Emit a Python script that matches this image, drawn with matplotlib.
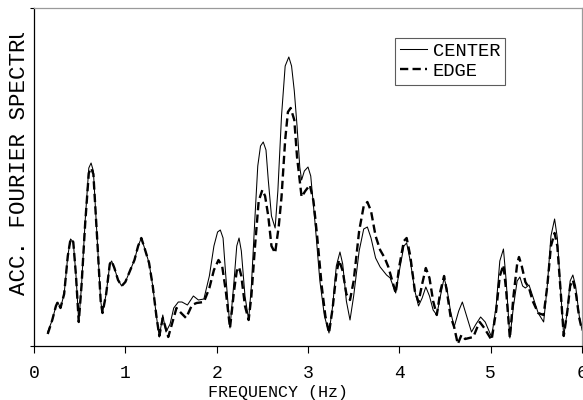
import matplotlib
matplotlib.use("Agg")
import matplotlib.pyplot as plt
from matplotlib.transforms import Bbox, TransformedBbox

# ---- data (y in arbitrary spectral units) ----
center_x = [0.15, 0.20, 0.24, 0.26, 0.29, 0.33, 0.37, 0.40, 0.43, 0.46, 0.49, 0.52, 0.56, 0.60, 0.625,
            0.65, 0.69, 0.73, 0.75, 0.79, 0.83, 0.85, 0.88, 0.92, 0.96, 1.00, 1.05, 1.10, 1.14, 1.175,
            1.21, 1.26, 1.30, 1.34, 1.372, 1.41, 1.445, 1.49, 1.53, 1.58, 1.62, 1.68, 1.745, 1.80, 1.86,
            1.92, 1.97, 2.01, 2.04, 2.07, 2.10, 2.146, 2.19, 2.22, 2.245, 2.27, 2.31, 2.35, 2.38, 2.42,
            2.45, 2.48, 2.51, 2.54, 2.565, 2.60, 2.64, 2.67, 2.71, 2.75, 2.79, 2.82, 2.85, 2.88, 2.91,
            2.93, 2.96, 3.00, 3.03, 3.08, 3.13, 3.18, 3.23, 3.27, 3.31, 3.35, 3.38, 3.42, 3.46, 3.50,
            3.56, 3.61, 3.65, 3.69, 3.74, 3.79, 3.86, 3.90, 3.96, 4.00, 4.05, 4.08, 4.12, 4.17, 4.21,
            4.25, 4.29, 4.33, 4.37, 4.41, 4.45, 4.49, 4.52, 4.56, 4.60, 4.65, 4.69, 4.73, 4.79, 4.84,
            4.89, 4.94, 5.01, 5.06, 5.10, 5.14, 5.17, 5.21, 5.25, 5.29, 5.32, 5.35, 5.38, 5.42, 5.46,
            5.52, 5.58, 5.62, 5.66, 5.70, 5.73, 5.77, 5.80, 5.84, 5.87, 5.90, 5.93, 5.97, 6.00]
center_y = [14, 26, 40, 44, 38, 52, 90, 107, 104, 70, 24, 60, 125, 178, 183,
            175, 110, 45, 33, 52, 82, 85, 78, 66, 60, 64, 75, 86, 100, 108,
            98, 83, 60, 30, 9, 31, 14, 22, 38, 44, 44, 41, 50, 46, 47,
            70, 100, 114, 116, 108, 70, 18, 65, 100, 108, 95, 50, 26, 60, 130,
            180, 200, 204, 196, 166, 130, 118, 155, 230, 280, 289, 280, 255, 220, 179,
            166, 175, 179, 170, 120, 65, 30, 13, 40, 80, 94, 82, 45, 26, 50,
            95, 117, 119, 108, 88, 79, 71, 68, 53, 75, 100, 103, 85, 55, 40,
            48, 59, 50, 36, 31, 50, 68, 58, 35, 19, 35, 44, 32, 14, 22,
            29, 24, 9, 40, 85, 97, 65, 8, 40, 65, 69, 60, 58, 61, 50,
            33, 24, 60, 110, 127, 108, 50, 10, 35, 65, 71, 60, 30, 16]

edge_x = [0.15, 0.20, 0.24, 0.26, 0.29, 0.33, 0.37, 0.40, 0.43, 0.46, 0.49, 0.52, 0.56, 0.60, 0.625,
          0.65, 0.69, 0.73, 0.75, 0.79, 0.83, 0.85, 0.88, 0.92, 0.96, 1.00, 1.05, 1.10, 1.14, 1.175,
          1.21, 1.26, 1.30, 1.34, 1.372, 1.41, 1.47, 1.51, 1.56, 1.60, 1.665, 1.73, 1.78, 1.86,
          1.92, 1.97, 2.02, 2.06, 2.10, 2.146, 2.19, 2.22, 2.245, 2.27, 2.31, 2.35, 2.38, 2.42,
          2.46, 2.50, 2.53, 2.565, 2.60, 2.64, 2.68, 2.71, 2.75, 2.78, 2.81, 2.85, 2.88, 2.93,
          2.97, 3.02, 3.06, 3.10, 3.15, 3.19, 3.23, 3.27, 3.31, 3.34, 3.38, 3.42, 3.46, 3.50,
          3.56, 3.61, 3.65, 3.69, 3.74, 3.79, 3.84, 3.88, 3.96, 4.00, 4.05, 4.08, 4.12, 4.17, 4.21,
          4.25, 4.29, 4.33, 4.37, 4.41, 4.45, 4.49, 4.52, 4.56, 4.60, 4.64, 4.68, 4.72, 4.81, 4.85,
          4.88, 4.93, 5.01, 5.06, 5.10, 5.14, 5.17, 5.21, 5.25, 5.29, 5.31, 5.34, 5.38, 5.42, 5.46,
          5.52, 5.58, 5.62, 5.66, 5.70, 5.73, 5.77, 5.80, 5.84, 5.87, 5.90, 5.93, 5.97, 6.00]
edge_y = [12, 26, 40, 44, 38, 52, 90, 107, 104, 70, 24, 60, 122, 173, 178,
          172, 110, 45, 33, 52, 82, 85, 78, 66, 60, 64, 75, 86, 100, 108,
          98, 83, 60, 30, 10, 28, 9, 22, 38, 34, 28, 41, 43, 44,
          58, 76, 86, 80, 55, 18, 55, 75, 79, 70, 40, 26, 50, 100,
          145, 156, 150, 130, 100, 93, 120, 149, 206, 234, 238, 226, 189, 149,
          155, 161, 145, 110, 60, 30, 13, 38, 72, 86, 75, 52, 46, 65,
          115, 140, 144, 135, 110, 96, 88, 79, 53, 80, 105, 108, 90, 55, 44,
          62, 78, 68, 45, 31, 55, 70, 55, 30, 19, 2, 11, 7, 9, 18,
          24, 18, 6, 35, 70, 81, 55, 8, 50, 82, 89, 80, 64, 58, 45,
          33, 31, 60, 100, 113, 100, 50, 10, 35, 60, 66, 55, 28, 16]

series_labels = ["CENTER", "EDGE"]
x_ticks = [0, 1, 2, 3, 4, 5, 6]
x_label = "FREQUENCY (Hz)"
y_label = "ACC. FOURIER SPECTRUM"

FONT = "Liberation Mono"

fig = plt.figure(figsize=(5.83, 4.0), dpi=100)
ax = fig.add_axes([34 / 583, 54 / 400, 548 / 583, 338 / 400])

ax.plot(center_x, center_y, color="black", lw=0.75, label=series_labels[0])
ax.plot(edge_x, edge_y, color="black", lw=1.7, dashes=(3.5, 1.8), label=series_labels[1])

ax.set_xlim(0, 6)
ax.set_ylim(0, 338)
ax.set_xticks(x_ticks)
ax.set_xticklabels([str(t) for t in x_ticks], fontfamily=FONT, fontsize=13)
ax.set_yticks([0, 338])
ax.set_yticklabels([])
ax.tick_params(axis="x", direction="out", length=5, width=0.8, pad=9)
ax.tick_params(axis="y", direction="out", length=3, width=0.8)

for s in ("left", "bottom"):
    ax.spines[s].set_color("black")
    ax.spines[s].set_linewidth(0.9)
for s in ("top", "right"):
    ax.spines[s].set_color("#9a9a9a")
    ax.spines[s].set_linewidth(0.9)

ax.set_xlabel(x_label, fontfamily=FONT, fontsize=12, va="center")
ax.xaxis.set_label_coords((278.5 - 34) / 548, (346 - 392) / 338)

# y label: in the reference the top of the label is cut off at ~33 px from the top
ylab = fig.text(20 / 583, (400 - 295) / 400, y_label, rotation=90, fontfamily=FONT,
                fontsize=16.2, ha="center", va="bottom")
ylab.set_clip_box(TransformedBbox(Bbox([[0, 0], [1, (400 - 33) / 400]]), fig.transFigure))
ylab.set_clip_on(True)

leg = ax.legend(loc="upper left", bbox_to_anchor=(0.659, 0.911), borderaxespad=0,
                frameon=True, fancybox=False, prop={"family": FONT, "size": 13.5},
                handlelength=1.45, handletextpad=0.3, borderpad=0.25, labelspacing=0.15)
leg.get_frame().set_edgecolor("#333333")
leg.get_frame().set_linewidth(0.8)

fig.savefig("out.png", dpi=100)
